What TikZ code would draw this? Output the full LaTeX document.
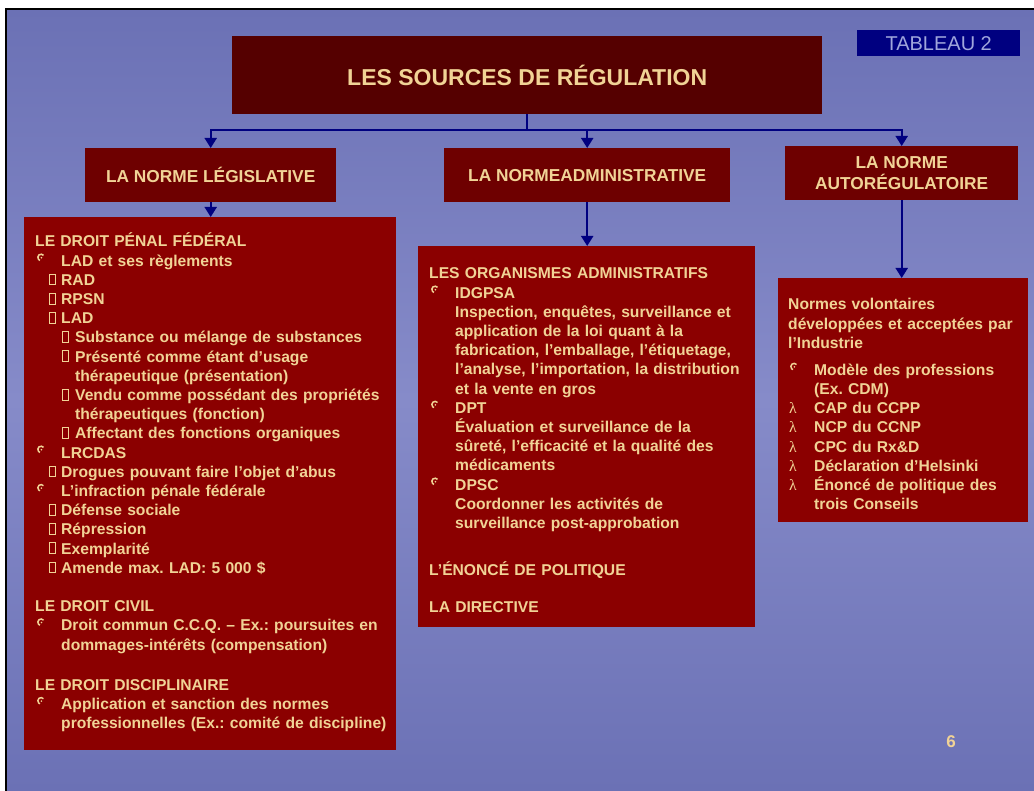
\documentclass[tikz,border=0pt]{standalone}
\usepackage{fontspec}
\setmainfont{Liberation Sans}
\newfontfamily\lamfont{Liberation Serif}
\usetikzlibrary{arrows.meta}
\frenchspacing
\definecolor{bgtop}{RGB}{107,113,181}
\definecolor{bgmid}{RGB}{134,139,201}
\definecolor{cream}{RGB}{241,211,150}
\definecolor{darkhead}{RGB}{85,0,0}
\definecolor{midhead}{RGB}{110,0,0}
\definecolor{boxred}{RGB}{139,0,0}
\definecolor{navy}{RGB}{0,0,128}
\definecolor{tabtext}{RGB}{160,166,220}
\newcommand{\arcbul}{\tikz[x=1pt,y=1pt,baseline=0pt]{\draw[cream,line width=1.5pt] ([shift={(40:3.2)}]3.5,8.8) arc[start angle=40,end angle=250,radius=3.2];
	\fill[cream] (3.9,8.5) circle (0.9);}}
\newcommand{\tofu}{\tikz[x=1pt,y=1pt,baseline=0pt]{\draw[cream,line width=1.1pt] (0.5,0.5) rectangle (6.5,11.3);}}
\newcommand{\itA}{\makebox[26pt][l]{\hspace{1.5pt}\arcbul}}
\newcommand{\itB}{\hspace*{14pt}\makebox[12pt][l]{\tofu}}
\newcommand{\itC}{\hspace*{27pt}\makebox[13pt][l]{\tofu}}
\newcommand{\itL}{\makebox[26pt][l]{\hspace{1pt}{\lamfont\mdseries λ}}}
\newcommand{\ctA}{\hspace*{26pt}}
\newcommand{\ctC}{\hspace*{40pt}}

\begin{document}
\begin{tikzpicture}[x=1pt,y=-1pt,
	conn/.style={navy,line width=2pt,-{Triangle[width=12pt,length=10pt]}},
	headbox/.style={fill=midhead,text=cream,font=\bfseries\fontsize{17.3}{20.8}\selectfont,align=center,inner sep=0pt,anchor=north west},
	bigbox/.style={fill=boxred,inner sep=0pt,anchor=north west},
	body/.style={text=cream,font=\bfseries\fontsize{15.65}{19.2}\selectfont,align=left,text width=400pt,inner sep=0pt,anchor=base west}]
	\useasboundingbox (0,0) rectangle (1034,791);
	\fill[white] (0,0) rectangle (1034,791);
	\shade[top color=bgtop,bottom color=bgtop,middle color=bgmid] (6,9) rectangle (1034,791);
	\draw[black,line width=2.5pt] (6.2,791) -- (6.2,8.8) -- (1034,8.8);
		\node[fill=navy,text=tabtext,font=\fontsize{20}{24}\selectfont,minimum width=163pt,minimum height=26pt,inner sep=0pt,anchor=north west] (tab) at (857,30) {TABLEAU 2};
		\node[fill=darkhead,text=cream,font=\bfseries\fontsize{23}{27}\selectfont,minimum width=590pt,minimum height=78pt,inner sep=0pt,anchor=north west] (title) at (232,36) {LES SOURCES DE RÉGULATION};
		\node[headbox,minimum width=251pt,minimum height=54pt] (lnorm) at (85,148) {LA NORME LÉGISLATIVE};
		\node[headbox,minimum width=286pt,minimum height=54pt] (mnorm) at (444,148) {LA NORMEADMINISTRATIVE};
		\node[headbox,minimum width=233pt,minimum height=54pt] (rnorm) at (785,146) {LA NORME\\AUTORÉGULATOIRE};
		\node[bigbox,minimum width=372pt,minimum height=533pt] (lbox) at (24,217) {};
		\node[bigbox,minimum width=337pt,minimum height=381pt] (mbox) at (418,246) {};
		\node[bigbox,minimum width=250pt,minimum height=244pt] (rbox) at (778,278) {};
			\draw[conn] (title.south) -- ++(0,16) -| (lnorm.north);
			\draw[conn] (title.south) -- ++(0,16) -| (mnorm.north);
			\draw[conn] (title.south) -- ++(0,16) -| (rnorm.north);
			\draw[conn] (lnorm.south) -- (lnorm.south |- lbox.north);
			\draw[conn] (mnorm.south) -- (mnorm.south |- mbox.north);
			\draw[conn] (rnorm.south) -- (rnorm.south |- rbox.north);
		\node[body] (ltext) at (35,247) {LE DROIT PÉNAL FÉDÉRAL\\
			\itA LAD et ses règlements\\
			\itB RAD\\
			\itB RPSN\\
			\itB LAD\\
			\itC Substance ou mélange de substances\\
			\itC Présenté comme étant d’usage\\
			\ctC thérapeutique (présentation)\\
			\itC Vendu comme possédant des propriétés\\
			\ctC thérapeutiques (fonction)\\
			\itC Affectant des fonctions organiques\\
			\itA LRCDAS\\
			\itB Drogues pouvant faire l’objet d’abus\\
			\itA L’infraction pénale fédérale\\
			\itB Défense sociale\\
			\itB Répression\\
			\itB Exemplarité\\
			\itB Amende max. LAD: 5 000 \$\\[19.2pt]
			LE DROIT CIVIL\\
			\itA Droit commun C.C.Q. – Ex.: poursuites en\\
			\ctA dommages-intérêts (compensation)\\[21pt]
			LE DROIT DISCIPLINAIRE\\
			\itA Application et sanction des normes\\
			\ctA professionnelles (Ex.: comité de discipline)};
		\node[body] (mtext) at (429,279) {LES ORGANISMES ADMINISTRATIFS\\
			\itA IDGPSA\\
			\ctA Inspection, enquêtes, surveillance et\\
			\ctA application de la loi quant à la\\
			\ctA fabrication, l’emballage, l’étiquetage,\\
			\ctA l’analyse, l’importation, la distribution\\
			\ctA et la vente en gros\\
			\itA DPT\\
			\ctA Évaluation et surveillance de la\\
			\ctA sûreté, l’efficacité et la qualité des\\
			\ctA médicaments\\
			\itA DPSC\\
			\ctA Coordonner les activités de\\
			\ctA surveillance post-approbation\\[27.8pt]
			L’ÉNONCÉ DE POLITIQUE\\[17.8pt]
			LA DIRECTIVE};
		\node[body] (rtext) at (788,310) {Normes volontaires\\
			développées et acceptées par\\
			l’Industrie\\[7.8pt]
			\itA Modèle des professions\\
			\ctA (Ex. CDM)\\
			\itL CAP du CCPP\\
			\itL NCP du CCNP\\
			\itL CPC du Rx\&D\\
			\itL Déclaration d’Helsinki\\
			\itL Énoncé de politique des\\
			\ctA trois Conseils};
		\node[text=cream,font=\bfseries\fontsize{17}{20}\selectfont] (pnum) at (951,742) {6};
\end{tikzpicture}
\end{document}
